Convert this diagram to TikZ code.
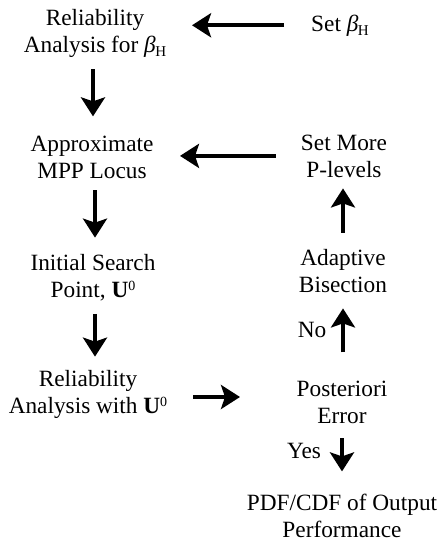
\documentclass[tikz,border=0pt]{standalone}
\usepackage{fontspec}
\setmainfont{Liberation Serif}
\usetikzlibrary{arrows.meta,calc}
\begin{document}
\begin{tikzpicture}[x=1pt,y=-1pt,
  lbl/.style={font=\fontsize{23.3}{27}\selectfont, align=center, inner sep=0pt, anchor=base},
  arr/.style={line width=3.8pt, -{Stealth[length=19pt,width=24pt,inset=4pt]}}]
\useasboundingbox (0,0) rectangle (443,541);
\newcommand{\bH}{{\itshape β}\kern-0.5pt{\fontsize{15}{15}\selectfont\raisebox{-4pt}{H}}}
\newcommand{\Uz}{\textbf{U}\raisebox{7pt}{\fontsize{14}{14}\selectfont 0}}
\node[lbl] (A) at (95,52) {Reliability\\Analysis for \bH};
\node[lbl] (B) at (340,31) {Set \bH};
\node[lbl] (C) at (92,178) {Approximate\\MPP Locus};
\node[lbl] (D) at (344,177) {Set More\\P-levels};
\node[lbl] (E) at (93,297) {Initial Search\\Point, \Uz};
\node[lbl] (F) at (343,292) {Adaptive\\Bisection};
\node[lbl] (G) at (88,413) {Reliability\\Analysis with \Uz};
\node[lbl] (H) at (342,423) {Posteriori\\Error};
\node[lbl] (I) at (342,537) {PDF/CDF of Output\\Performance};
\node[lbl] (no) at (312,337) {No};
\node[lbl] (yes) at (304,458) {Yes};
\coordinate (ab1) at ($(B.west)+(-27,0)$);
\draw[arr] (ab1) -- (ab1 -| 192,0);
\coordinate (dc1) at ($(D.west)+(-25,0)$);
\draw[arr] (dc1) -- (dc1 -| 180,0);
\coordinate (gh1) at (193,397);
\draw[arr] (gh1) -- (gh1 -| 240,0);
\draw[arr] ($(A.south)+(-2,12)$) -- ($(A.south |- C.north)+(-2,-19)$);
\draw[arr] ($(C.south)+(3,12)$) -- ($(C.south |- E.north)+(3,-16)$);
\draw[arr] ($(E.south)+(2,13)$) -- ($(E.south |- G.north)+(2,-13)$);
\draw[arr] ($(F.north)+(0,-16)$) -- ($(F.north |- D.south)+(0,11)$);
\draw[arr] ($(H.north)+(1,-28)$) -- ($(H.north |- F.south)+(1,16)$);
\draw[arr] ($(H.south)+(0,15)$) -- ($(H.south |- I.north)+(0,-22)$);
\end{tikzpicture}
\end{document}
